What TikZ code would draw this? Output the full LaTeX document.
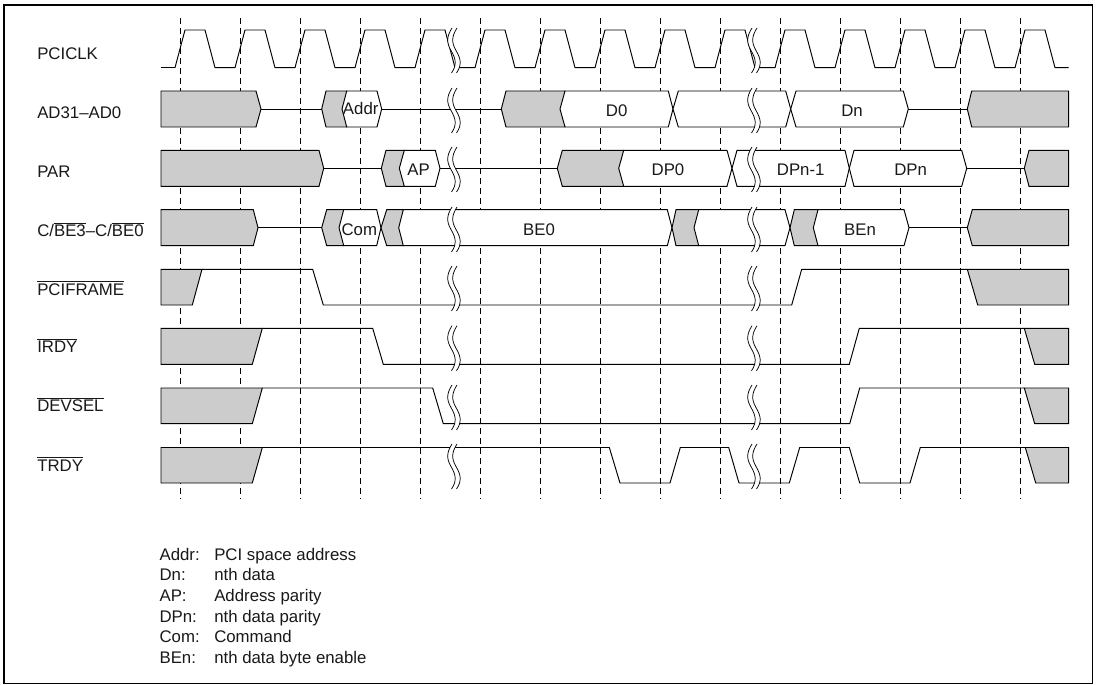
\documentclass[tikz,border=0pt]{standalone}
\usepackage{fontspec}
\setmainfont{Liberation Sans}
\newcommand\ovl[1]{$\overline{\hbox{#1}}$}
\newcommand\hx[6]{\draw[#1] (#2,{#6+18})--(#3,#6)--(#4,#6)--(#5,{#6+18})--(#4,{#6+36})--(#3,{#6+36})--cycle;}
\tikzset{
  sig/.style={draw=black,line width=0.72pt,line join=miter},
  gr/.style={sig,fill=black!20},
  wh/.style={sig,fill=white},
  guide/.style={draw=black,line width=0.72pt,dash pattern=on 4.5pt off 3pt},
  lab/.style={anchor=base west,inner sep=0pt,font=\fontsize{12.6pt}{14pt}\selectfont,text=black!90},
  val/.style={anchor=base,inner sep=0pt,font=\fontsize{12.6pt}{14pt}\selectfont,text=black!90},
  brk/.pic={
    \draw[draw=white,line width=3.4pt] (7.5,0) .. controls (2.5,8) and (1.5,14) .. (6.5,22.5) .. controls (11.5,31) and (12.5,37) .. (7,45);
    \draw[draw=black,line width=0.55pt] (5,0) .. controls (0,8) and (-1,14) .. (4,22.5) .. controls (9,31) and (10,37) .. (4.5,45);
    \draw[draw=black,line width=0.55pt] (10,0) .. controls (5,8) and (4,14) .. (9,22.5) .. controls (14,31) and (15,37) .. (9.5,45);
  }
}
\begin{document}
\begin{tikzpicture}[x=0.75pt,y=-0.75pt]
\useasboundingbox (0,0) rectangle (1097,685);
\fill[white] (0,0) rectangle (1097,685);
\draw[draw=black,line width=1.2pt] (4,5) rectangle (1092.5,683.5);
% guides
\foreach \k in {0,...,14}
  \path[guide] ({180+60*\k},18) -- ({180+60*\k},499);
% PCICLK
\draw[sig] (161,67.7) -- (175,67.7);
\foreach \k in {0,...,13}
  \draw[sig] ({175+60*\k},67.7)--({185+60*\k},30)--({205+60*\k},30)--({215+60*\k},67.7)--({235+60*\k},67.7);
\draw[sig] (1015,67.7)--(1025,30)--(1045,30)--(1055,67.7)--(1068.7,67.7);
% AD31-AD0
\draw[sig] (261,109)--(321.7,109) (381.7,109)--(501.3,109) (908.3,109)--(967.3,109);
\hx{gr}{161}{161}{256}{261}{91}
\hx{gr}{321.7}{326}{346.7}{346.7}{91}
\draw[wh] (342,109)--(346.7,91)--(377,91)--(381.7,109)--(377,127)--(346.7,127)--cycle;
\hx{gr}{501.3}{506}{565}{565}{91}
\draw[wh] (560,109)--(565,91)--(668.3,91)--(673,109)--(668.3,127)--(565,127)--cycle;
\hx{wh}{673}{678.3}{785.7}{790.7}{91}
\hx{wh}{790.7}{796}{903.3}{908.3}{91}
\hx{gr}{967.3}{971.7}{1068.7}{1068.7}{91}
% PAR
\draw[sig] (323.7,168.3)--(381.3,168.3) (440,168.3)--(557.3,168.3) (966.7,168.3)--(1024.3,168.3);
\hx{gr}{161}{161}{319}{323.7}{150.3}
\hx{gr}{381.3}{386}{404.3}{404.3}{150.3}
\draw[wh] (399.3,168.3)--(404.3,150.3)--(435.3,150.3)--(440,168.3)--(435.3,186.3)--(404.3,186.3)--cycle;
\hx{gr}{557.3}{562.3}{623.7}{623.7}{150.3}
\draw[wh] (618.7,168.3)--(623.7,150.3)--(727,150.3)--(732,168.3)--(727,186.3)--(623.7,186.3)--cycle;
\hx{wh}{732}{737}{845}{849.3}{150.3}
\hx{wh}{849.3}{854}{961.7}{966.7}{150.3}
\hx{gr}{1024.3}{1029}{1068.7}{1068.7}{150.3}
% C/BE
\draw[sig] (258,227.7)--(321.7,227.7) (909,227.7)--(967.3,227.7);
\hx{gr}{161}{161}{253.3}{258}{209.7}
\hx{gr}{321.7}{326.7}{343.7}{343.7}{209.7}
\draw[wh] (339,227.7)--(343.7,209.7)--(376.7,209.7)--(381,227.7)--(376.7,245.7)--(343.7,245.7)--cycle;
\hx{gr}{381}{386.7}{403.3}{403.3}{209.7}
\draw[wh] (398.7,227.7)--(403.3,209.7)--(667.3,209.7)--(672,227.7)--(667.3,245.7)--(403.3,245.7)--cycle;
\hx{gr}{672}{676}{698.7}{698.7}{209.7}
\draw[wh] (694,227.7)--(698.7,209.7)--(785,209.7)--(790,227.7)--(785,245.7)--(698.7,245.7)--cycle;
\hx{gr}{790}{794.3}{818}{818}{209.7}
\draw[wh] (813.3,227.7)--(818,209.7)--(904,209.7)--(909,227.7)--(904,245.7)--(818,245.7)--cycle;
\hx{gr}{967.3}{972.3}{1068.7}{1068.7}{209.7}
% PCIFRAME
\draw[gr] (161,269.3)--(202,269.3)--(192.3,305)--(161,305)--cycle;
\draw[sig] (202,269.3)--(312.7,269.3)--(323.3,305)--(791.7,305)--(801.7,269.3)--(967.3,269.3);
\draw[gr] (967.3,269.3)--(1068.7,269.3)--(1068.7,305)--(977.7,305)--cycle;
% IRDY
\draw[gr] (161,328.3)--(262.3,328.3)--(252.3,364.3)--(161,364.3)--cycle;
\draw[sig] (262.3,328.3)--(372.7,328.3)--(383.3,364.3)--(849.3,364.3)--(859.3,328.3)--(1024.3,328.3);
\draw[gr] (1024.3,328.3)--(1068.7,328.3)--(1068.7,364.3)--(1034.7,364.3)--cycle;
% DEVSEL
\draw[gr] (161,388)--(262.3,388)--(252.3,423.7)--(161,423.7)--cycle;
\draw[sig] (262.3,388)--(432.7,388)--(443.3,423.7)--(849.7,423.7)--(859.7,388)--(1024.3,388);
\draw[gr] (1024.3,388)--(1068.7,388)--(1068.7,423.7)--(1034.7,423.7)--cycle;
% TRDY
\draw[gr] (161,447.5)--(262.3,447.5)--(252.3,483)--(161,483)--cycle;
\draw[sig] (262.3,447.5)--(609.3,447.5)--(620,483)--(670,483)--(680.3,447.5)--(728.7,447.5)--(739,483)--(789.3,483)--(799.7,447.5)--(849.3,447.5)--(859.7,483)--(910,483)--(920.3,447.5)--(1025.3,447.5);
\draw[gr] (1025.3,447.5)--(1068.7,447.5)--(1068.7,483)--(1035.7,483)--cycle;
% breaks
\foreach \y in {28,88,147,207,266,325.7,385,444}{
  \pic at (447,\y) {brk};
  \pic at (747,\y) {brk};
}
% signal labels
\node[lab] (lclk) at (37,59.3) {PCICLK};
\node[lab] (lad) at (37,118.3) {AD31–AD0};
\node[lab] (lpar) at (37,177.5) {PAR};
\node[lab] (lcbe) at (37,236.7) {C/\ovl{BE3}–C/\ovl{BE0}};
\node[lab] (lfrm) at (37,295) {\ovl{PCIFRAME}};
\node[lab] (lirdy) at (37,352.5) {\ovl{IRDY}};
\node[lab] (ldev) at (37,411.7) {\ovl{DEVSEL}};
\node[lab] (ltrdy) at (37,471) {\ovl{TRDY}};
% value labels
\node[val] (addr) at (360.7,115) {Addr};
\node[val] (d0) at (616.7,117) {D0};
\node[val] (dn) at (852,117) {Dn};
\node[val] (ap) at (418.7,175.7) {AP};
\node[val] (dp0) at (668,175.7) {DP0};
\node[val] (dpm) at (800.7,175.7) {DPn-1};
\node[val] (dpn) at (910.7,175.7) {DPn};
\node[val] (com) at (359.3,235) {Com};
\node[val] (be0) at (539,235) {BE0};
\node[val] (ben) at (860,235) {BEn};
% legend
\node[lab] (k1) at (159.3,560) {Addr:};
\node[lab] (v1) at (214,560) {PCI space address};
\node[lab] (k2) at (159.3,580.7) {Dn:};
\node[lab] (v2) at (214,580.7) {nth data};
\node[lab] (k3) at (159.3,601.4) {AP:};
\node[lab] (v3) at (214,601.4) {Address parity};
\node[lab] (k4) at (159.3,622) {DPn:};
\node[lab] (v4) at (214,622) {nth data parity};
\node[lab] (k5) at (159.3,642.7) {Com:};
\node[lab] (v5) at (214,642.7) {Command};
\node[lab] (k6) at (159.3,663.3) {BEn:};
\node[lab] (v6) at (214,663.3) {nth data byte enable};
\end{tikzpicture}
\end{document}
